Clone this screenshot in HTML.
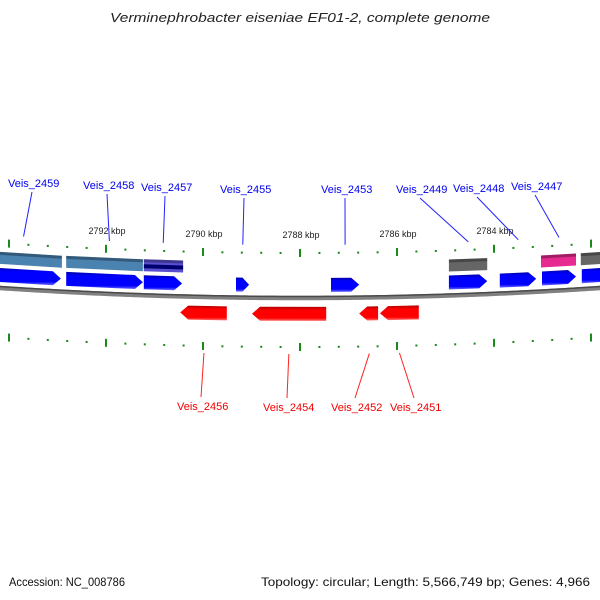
<!DOCTYPE html>
<html><head><meta charset="utf-8"><style>
html,body{margin:0;padding:0;background:#fff;}
svg{display:block;font-family:"Liberation Sans",sans-serif;}
</style></head><body>
<svg id="chart" width="600" height="600" viewBox="0 0 600 600">
<defs>
<linearGradient id="gBlue" x1="0" y1="0" x2="0" y2="1"><stop offset="0" stop-color="#0000a8"/><stop offset="0.25" stop-color="#0000ff"/><stop offset="0.8" stop-color="#0000ff"/><stop offset="1" stop-color="#6a6aff"/></linearGradient>
<linearGradient id="gRed" x1="0" y1="0" x2="0" y2="1"><stop offset="0" stop-color="#b00000"/><stop offset="0.25" stop-color="#ff0000"/><stop offset="0.8" stop-color="#ff0000"/><stop offset="1" stop-color="#ff7070"/></linearGradient>
</defs>
<text x="110" y="22" textLength="380" lengthAdjust="spacingAndGlyphs" font-size="13" font-style="italic" fill="#222">Verminephrobacter eiseniae EF01-2, complete genome</text>
<g id="backbone-g"></g>
<g id="ticks-g"></g>
<g id="genes-g"></g>
<g id="labels-g"></g>
<text x="9" y="586" textLength="116" lengthAdjust="spacingAndGlyphs" font-size="12" fill="#111">Accession: NC_008786</text>
<text x="261" y="586" textLength="329" lengthAdjust="spacingAndGlyphs" font-size="12" fill="#111">Topology: circular; Length: 5,566,749 bp; Genes: 4,966</text>
</svg>
<script>
// data (kbp)
const fwdStarts = [2794.4, 2792.82, 2791.22, 2789.32, 2787.36, 2784.93, 2783.88, 2783.01, 2782.19];
const fwdEnds   = [2792.93, 2791.24, 2790.43, 2789.05, 2786.78, 2784.14, 2783.13, 2782.31, 2781.5];
const cogStarts = [2794.4, 2792.82, 2791.22, 2784.93, 2783.03, 2782.21];
const cogEnds   = [2792.91, 2791.24, 2790.41, 2784.14, 2782.31, 2781.5];
const cogColors = ["#4a82b0", "#4a82b0", "#5a4fcf", "#666666", "#e62a90", "#666666"];
const revStarts = [2790.47, 2788.99, 2786.78, 2786.35];
const revEnds   = [2789.51, 2787.46, 2786.39, 2785.55];
const majorTicks = [2794, 2792, 2790, 2788, 2786, 2784, 2782];
const majorLabels = ["", "2792 kbp", "2790 kbp", "2788 kbp", "2786 kbp", "2784 kbp", ""];
const fwdLabels = ["Veis_2459","Veis_2458","Veis_2457","Veis_2455","Veis_2453","Veis_2449","Veis_2448","Veis_2447"];
const fwdLabelKbp = [2793.7, 2791.93, 2790.82, 2789.18, 2787.07, 2784.53, 2783.5, 2782.66];
const fwdLabelPos = [[8,187],[83,189],[141,191],[220,193],[321,193],[396,193],[453,192],[511,190]];
const revLabels = ["Veis_2456","Veis_2454","Veis_2452","Veis_2451"];
const revLabelKbp = [2789.98, 2788.23, 2786.57, 2785.95];
const revLabelPos = [[177,410],[263,411],[331,411],[390,411]];

const NS="http://www.w3.org/2000/svg";
const xs = k => 300 + (2788 - k) * 48.5;
const arc = x => 298 - 10 * Math.pow((x - 300) / 300, 2);
function mk(tag, attrs, parent){const e=document.createElementNS(NS,tag);for(const a in attrs)e.setAttribute(a,attrs[a]);parent.appendChild(e);return e;}

const bb=document.getElementById('backbone-g');
let d=""; for(let x=-10;x<=610;x+=5){d+=(x===-10?"M":"L")+x+","+arc(x).toFixed(2);}
const bl=mk('path',{d:d,fill:'none',stroke:'#808080','stroke-width':4.5},bb);


const bl2=mk('path',{d:d,fill:'none',stroke:'#4a4a4a','stroke-width':1.5,transform:'translate(0,-1.5)'},bb);



const tg=document.getElementById('ticks-g');
for(let k=2794.4;k>=2781.5;k-=0.4){
  const kk=Math.round(k*10)/10; const x=xs(kk); if(x<-2||x>602)continue;
  const major=Math.abs(kk/2-Math.round(kk/2))<0.01;
  [[-45],[49]].forEach(([off])=>{
    const y=arc(x)+off;
    const t=mk('rect',{x:x-1,y:major?y-4:y-1,width:2,height:major?8:2,fill:'#1a8a1a'},tg);
    
    
  });
}
majorTicks.forEach((k,i)=>{
  if(!majorLabels[i])return;
  const x=xs(k);
  const t=mk('text',{x:x+1,y:arc(x)-60,'text-anchor':'middle','font-size':'9',fill:'#222'},tg);
  t.textContent=majorLabels[i];
  
  
});

const gg=document.getElementById('genes-g');
function poly(pts){return pts.map(p=>p[0].toFixed(1)+","+p[1].toFixed(1)).join(" ");}
cogStarts.forEach((s,i)=>{
  const x1=xs(s),x2=xs(cogEnds[i]),o=-36,h=12;
  const p=mk('polygon',{points:poly([[x1,arc(x1)+o],[x2,arc(x2)+o],[x2,arc(x2)+o+h],[x1,arc(x1)+o+h]]),fill:cogColors[i]},gg);
  
  
  const p2=mk('polygon',{points:poly([[x1,arc(x1)+o],[x2,arc(x2)+o],[x2,arc(x2)+o+3],[x1,arc(x1)+o+3]]),fill:'rgba(0,0,0,0.3)'},gg);
  
  
  if(i===2){const p3=mk('polygon',{points:poly([[x1,arc(x1)+o+5],[x2,arc(x2)+o+5],[x2,arc(x2)+o+9],[x1,arc(x1)+o+9]]),fill:'#000070'},gg);
    
    }
});
fwdStarts.forEach((s,i)=>{
  const x1=xs(s),x2=xs(fwdEnds[i]),o=-20,h=14,tip=Math.min(8,(x2-x1)/2);
  const m=arc(x2)+o+h/2;
  const p=mk('polygon',{points:poly([[x1,arc(x1)+o],[x2-tip,arc(x2-tip)+o],[x2,m],[x2-tip,arc(x2-tip)+o+h],[x1,arc(x1)+o+h]]),fill:'url(#gBlue)'},gg);
  
  
});
revStarts.forEach((s,i)=>{
  const x1=xs(s),x2=xs(revEnds[i]),o=9,h=14,tip=Math.min(8,(x2-x1)/2);
  const m=arc(x1)+o+h/2;
  const p=mk('polygon',{points:poly([[x1,m],[x1+tip,arc(x1+tip)+o],[x2,arc(x2)+o],[x2,arc(x2)+o+h],[x1+tip,arc(x1+tip)+o+h]]),fill:'url(#gRed)'},gg);
  
  
});

const lg=document.getElementById('labels-g');
fwdLabels.forEach((t,i)=>{
  const x=xs(fwdLabelKbp[i]); const [lx,ly]=fwdLabelPos[i];
  const cx=lx+24;
  const l=mk('line',{x1:cx,y1:ly+5,x2:x,y2:arc(x)-53,stroke:'#2222ff','stroke-width':1},lg);
  
  
  const tx=mk('text',{x:lx,y:ly,'font-size':'11',fill:'#0000ee'},lg);
  tx.textContent=t;
  
  
});
revLabels.forEach((t,i)=>{
  const x=xs(revLabelKbp[i]); const [lx,ly]=revLabelPos[i];
  const cx=lx+24;
  const l=mk('line',{x1:x,y1:arc(x)+56,x2:cx,y2:ly-13,stroke:'#ff2222','stroke-width':1},lg);
  
  
  const tx=mk('text',{x:lx,y:ly,'font-size':'11',fill:'#ee0000'},lg);
  tx.textContent=t;
  
  
});
</script>
</body></html>
